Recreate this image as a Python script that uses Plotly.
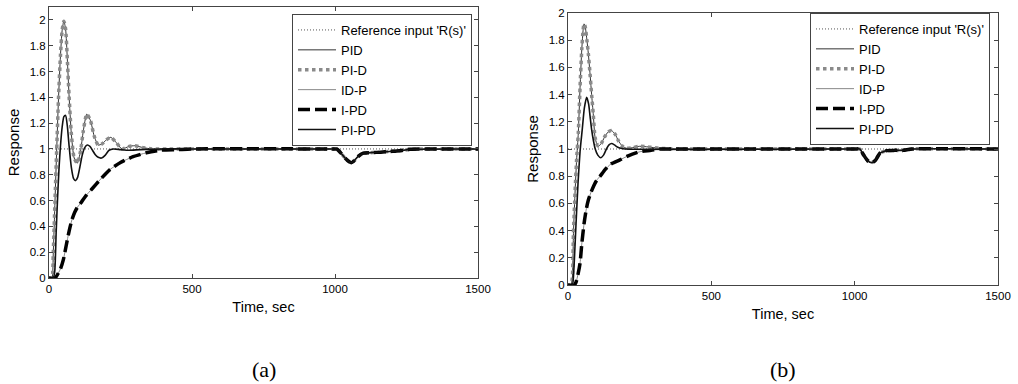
import plotly.graph_objects as go

# ---------------- data: panel (a) ----------------
a_ref_t = [0, 1500]
a_ref_v = [1, 1]

a_pid_t = [0, 10, 15, 21, 27, 33, 40, 46, 52, 58, 64, 70, 78, 88, 99, 110, 120, 132, 145, 158, 172, 186, 200, 216, 235, 255, 280, 300, 330, 360, 420, 500, 1000, 1006, 1020, 1035, 1050, 1058, 1068, 1080, 1099, 1130, 1160, 1190, 1216, 1240, 1262, 1500]
a_pid_v = [0, 0, 0.2, 0.6, 1.0, 1.38, 1.72, 1.92, 1.99, 1.93, 1.70, 1.42, 1.12, 0.93, 0.89, 0.98, 1.14, 1.27, 1.22, 1.10, 1.03, 1.04, 1.07, 1.09, 1.05, 1.0, 1.02, 1.025, 1.01, 1.0, 1.0, 1.0, 1.0, 1.0, 0.97, 0.93, 0.90, 0.894, 0.91, 0.94, 0.967, 0.972, 0.975, 0.98, 0.984, 0.99, 0.997, 1.0]

a_pid2_t = [0, 10, 15, 21, 27, 33, 40, 46, 52, 58, 64, 70, 78, 88, 99, 110, 120, 132, 145, 158, 172, 186, 200, 216, 235, 255, 280, 300, 330, 360, 420, 500, 1000, 1006, 1020, 1035, 1050, 1058, 1068, 1080, 1099, 1130, 1160, 1190, 1216, 1240, 1262, 1500]
a_pid2_v = [0, 0, 0.2, 0.6, 1.0, 1.38, 1.72, 1.92, 1.99, 1.93, 1.70, 1.42, 1.12, 0.93, 0.89, 0.98, 1.14, 1.27, 1.22, 1.10, 1.03, 1.04, 1.07, 1.09, 1.05, 1.0, 1.02, 1.025, 1.01, 1.0, 1.0, 1.0, 1.0, 1.0, 0.97, 0.93, 0.90, 0.894, 0.91, 0.94, 0.967, 0.972, 0.975, 0.98, 0.984, 0.99, 0.997, 1.0]

a_ipd_t = [0, 20, 25, 40, 50, 60, 70, 80, 90, 100, 114, 130, 150, 178, 213, 250, 294, 340, 388, 450, 500, 1000, 1006, 1020, 1035, 1050, 1058, 1068, 1080, 1099, 1130, 1160, 1190, 1216, 1240, 1262, 1500]
a_ipd_v = [0, 0, 0.01, 0.07, 0.14, 0.25, 0.36, 0.45, 0.51, 0.55, 0.59, 0.64, 0.69, 0.76, 0.84, 0.895, 0.94, 0.97, 0.99, 0.995, 1.0, 1.0, 1.0, 0.97, 0.93, 0.90, 0.894, 0.91, 0.94, 0.967, 0.972, 0.975, 0.98, 0.984, 0.99, 0.997, 1.0]

a_idp_t = [0, 20, 25, 40, 50, 60, 70, 80, 90, 100, 114, 130, 150, 178, 213, 250, 294, 340, 388, 450, 500, 1000, 1006, 1020, 1035, 1050, 1058, 1068, 1080, 1099, 1130, 1160, 1190, 1216, 1240, 1262, 1500]
a_idp_v = [0, 0, 0.01, 0.07, 0.14, 0.25, 0.36, 0.45, 0.51, 0.55, 0.59, 0.64, 0.69, 0.76, 0.84, 0.895, 0.94, 0.97, 0.99, 0.995, 1.0, 1.0, 1.0, 0.97, 0.93, 0.90, 0.894, 0.91, 0.94, 0.967, 0.972, 0.975, 0.98, 0.984, 0.99, 0.997, 1.0]

a_pipd_t = [0, 15, 20, 25, 30, 35, 40, 46, 52, 58, 64, 70, 78, 86, 93, 100, 108, 116, 125, 134, 143, 152, 162, 172, 184, 196, 210, 225, 250, 280, 320, 400, 500, 1000, 1006, 1020, 1035, 1050, 1058, 1068, 1080, 1099, 1130, 1160, 1190, 1216, 1240, 1262, 1500]
a_pipd_v = [0, 0, 0.05, 0.35, 0.62, 0.85, 1.02, 1.17, 1.25, 1.26, 1.18, 1.03, 0.86, 0.77, 0.755, 0.78, 0.86, 0.95, 1.01, 1.03, 1.02, 0.99, 0.955, 0.935, 0.93, 0.95, 0.99, 1.0, 0.995, 0.99, 0.995, 1.0, 1.0, 1.0, 1.0, 0.97, 0.93, 0.90, 0.894, 0.91, 0.94, 0.967, 0.972, 0.975, 0.98, 0.984, 0.99, 0.997, 1.0]

# ---------------- data: panel (b) ----------------
b_ref_t = [0, 1500]
b_ref_v = [1, 1]

b_pid_t = [0, 10, 15, 19, 25, 30, 36, 42, 48, 53, 56, 60, 66, 71, 77, 83, 88, 94, 100, 106, 116, 128, 140, 152, 164, 176, 190, 205, 225, 250, 280, 320, 380, 450, 1000, 1018, 1030, 1045, 1059, 1072, 1088, 1100, 1111, 1140, 1170, 1200, 1500]
b_pid_v = [0, 0, 0.05, 0.38, 0.7, 0.92, 1.12, 1.45, 1.73, 1.88, 1.92, 1.9, 1.8, 1.70, 1.55, 1.385, 1.26, 1.09, 1.04, 1.02, 1.04, 1.09, 1.125, 1.135, 1.11, 1.06, 1.02, 1.005, 1.01, 1.02, 1.015, 1.005, 1.0, 1.0, 1.0, 1.0, 0.96, 0.915, 0.90, 0.915, 0.97, 0.98, 0.988, 0.99, 0.99, 1.0, 1.0]

b_pid2_t = [0, 10, 15, 19, 25, 30, 36, 42, 48, 53, 56, 60, 66, 71, 77, 83, 88, 94, 100, 106, 116, 128, 140, 152, 164, 176, 190, 205, 225, 250, 280, 320, 380, 450, 1000, 1018, 1030, 1045, 1059, 1072, 1088, 1100, 1111, 1140, 1170, 1200, 1500]
b_pid2_v = [0, 0, 0.05, 0.38, 0.7, 0.92, 1.12, 1.45, 1.73, 1.88, 1.92, 1.9, 1.8, 1.70, 1.55, 1.385, 1.26, 1.09, 1.04, 1.02, 1.04, 1.09, 1.125, 1.135, 1.11, 1.06, 1.02, 1.005, 1.01, 1.02, 1.015, 1.005, 1.0, 1.0, 1.0, 1.0, 0.96, 0.915, 0.90, 0.915, 0.97, 0.98, 0.988, 0.99, 0.99, 1.0, 1.0]

b_ipd_t = [0, 22, 28, 35, 42, 48, 56, 64, 71, 80, 90, 100, 112, 130, 150, 181, 210, 251, 290, 321, 360, 1000, 1018, 1030, 1045, 1059, 1072, 1088, 1100, 1111, 1140, 1170, 1200, 1500]
b_ipd_v = [0, 0, 0.02, 0.08, 0.16, 0.30, 0.45, 0.56, 0.625, 0.68, 0.73, 0.77, 0.80, 0.85, 0.89, 0.92, 0.95, 0.98, 0.99, 1.0, 1.0, 1.0, 1.0, 0.96, 0.915, 0.90, 0.915, 0.97, 0.98, 0.988, 0.99, 0.99, 1.0, 1.0]

b_idp_t = [0, 22, 28, 35, 42, 48, 56, 64, 71, 80, 90, 100, 112, 130, 150, 181, 210, 251, 290, 321, 360, 1000, 1018, 1030, 1045, 1059, 1072, 1088, 1100, 1111, 1140, 1170, 1200, 1500]
b_idp_v = [0, 0, 0.02, 0.08, 0.16, 0.30, 0.45, 0.56, 0.625, 0.68, 0.73, 0.77, 0.80, 0.85, 0.89, 0.92, 0.95, 0.98, 0.99, 1.0, 1.0, 1.0, 1.0, 0.96, 0.915, 0.90, 0.915, 0.97, 0.98, 0.988, 0.99, 0.99, 1.0, 1.0]

b_pipd_t = [0, 15, 20, 28, 35, 42, 50, 57, 65, 72, 77, 82, 88, 95, 104, 114, 124, 134, 143, 152, 162, 172, 185, 200, 1000, 1018, 1030, 1045, 1059, 1072, 1088, 1100, 1111, 1140, 1170, 1200, 1500]
b_pipd_v = [0, 0, 0.1, 0.45, 0.75, 0.98, 1.15, 1.3, 1.38, 1.33, 1.24, 1.15, 1.07, 1.0, 0.955, 0.936, 0.955, 1.0, 1.03, 1.04, 1.03, 1.015, 1.005, 1.0, 1.0, 1.0, 0.96, 0.915, 0.90, 0.915, 0.97, 0.98, 0.988, 0.99, 0.99, 1.0, 1.0]

# ---------------- labels ----------------
series_names = ["Reference input 'R(s)'", "PID", "PI-D", "ID-P", "I-PD", "PI-PD"]
y_tickvals = [0, 0.2, 0.4, 0.6, 0.8, 1, 1.2, 1.4, 1.6, 1.8, 2]
y_ticktext = ["0", "0.2", "0.4", "0.6", "0.8", "1", "1.2", "1.4", "1.6", "1.8", "2"]
x_tickvals = [0, 500, 1000, 1500]
x_ticktext = ["0", "500", "1000", "1500"]
x_title = "Time, sec"
y_title = "Response"
captions = ["(a)", "(b)"]

# ---------------- styles ----------------
styles = [
    dict(color="#555555", width=1, dash="1px,2px"),
    dict(color="#333333", width=1, dash="solid"),
    dict(color="#8a8a8a", width=3.5, dash="dot"),
    dict(color="#888888", width=1, dash="solid"),
    dict(color="#000000", width=3.5, dash="12px,5px"),
    dict(color="#111111", width=1.6, dash="solid"),
]

FONT = "Arial, 'Liberation Sans', sans-serif"

fig = go.Figure()

panels = [
    ("x", "y", "legend", [(a_ref_t, a_ref_v), (a_pid_t, a_pid_v), (a_pid2_t, a_pid2_v),
                          (a_idp_t, a_idp_v), (a_ipd_t, a_ipd_v), (a_pipd_t, a_pipd_v)]),
    ("x2", "y2", "legend2", [(b_ref_t, b_ref_v), (b_pid_t, b_pid_v), (b_pid2_t, b_pid2_v),
                             (b_idp_t, b_idp_v), (b_ipd_t, b_ipd_v), (b_pipd_t, b_pipd_v)]),
]

for xa, ya, leg, data in panels:
    for name, (t, v), st in zip(series_names, data, styles):
        fig.add_trace(go.Scatter(
            x=t, y=v, name=name, mode="lines", xaxis=xa, yaxis=ya, legend=leg,
            line=dict(color=st["color"], width=st["width"], dash=st["dash"],
                      shape="spline", smoothing=0.6),
            hoverinfo="skip",
        ))

axis_common = dict(
    showline=True, mirror="ticks", linecolor="#444444", linewidth=1,
    ticks="inside", ticklen=4, tickcolor="#444444", tickwidth=1,
    showgrid=False, zeroline=False, automargin=False,
    tickfont=dict(family=FONT, size=11.5, color="#000000"),
)
xt_font = dict(family=FONT, size=14.5, color="#000000")
yt_font = dict(family=FONT, size=15, color="#000000")
leg_common = dict(xanchor="right", yanchor="top", bgcolor="white",
                  bordercolor="#444444", borderwidth=1, itemwidth=38,
                  font=dict(family=FONT, size=13, color="#000000"), tracegroupgap=0)

fig.update_layout(
    width=1018, height=384,
    margin=dict(l=0, r=0, t=0, b=0),
    paper_bgcolor="white", plot_bgcolor="white",
    font=dict(family=FONT, size=12, color="#000000"),
    xaxis=dict(domain=[49/1018, 478/1018], range=[0, 1500], anchor="y",
               tickvals=x_tickvals, ticktext=x_ticktext,
               title=dict(text=x_title, standoff=8, font=xt_font), **axis_common),
    yaxis=dict(domain=[(384-278)/384, (384-7)/384], range=[0, 2.1], anchor="x",
               tickvals=y_tickvals, ticktext=y_ticktext,
               title=dict(text=y_title, standoff=6, font=yt_font), **axis_common),
    xaxis2=dict(domain=[568/1018, 998/1018], range=[0, 1500], anchor="y2",
                tickvals=x_tickvals, ticktext=x_ticktext,
                title=dict(text=x_title, standoff=8, font=xt_font), **axis_common),
    yaxis2=dict(domain=[(384-285)/384, (384-13)/384], range=[0, 2], anchor="x2",
                tickvals=y_tickvals, ticktext=y_ticktext,
                title=dict(text=y_title, standoff=6, font=yt_font), **axis_common),
    legend=dict(x=472/1018, y=(384-14)/384, **leg_common),
    legend2=dict(x=990/1018, y=(384-13)/384, **leg_common),
    showlegend=True,
)

for cap, cx in zip(captions, [264, 783]):
    fig.add_annotation(text=cap, x=cx/1018, y=(384-369)/384, xref="paper", yref="paper",
                       showarrow=False, xanchor="center", yanchor="middle",
                       font=dict(family="'Liberation Serif', 'Times New Roman', serif", size=22, color="#000000"))

fig.write_html("out.html", config={"displayModeBar": False},
               post_script="document.body.style.margin='0px';")
